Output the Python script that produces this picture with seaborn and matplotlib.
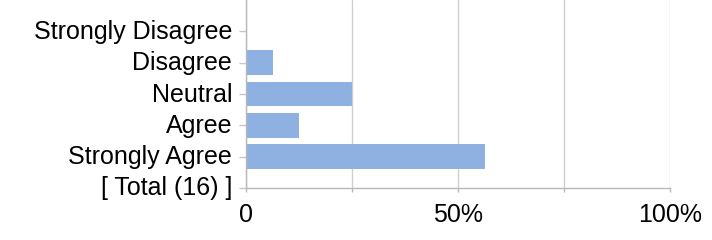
import matplotlib
matplotlib.use("Agg")
import matplotlib.pyplot as plt
import seaborn as sns
import pandas as pd
import numpy as np

categories = ["Strongly Disagree", "Disagree", "Neutral", "Agree", "Strongly Agree", "[ Total (16) ]"]
percent = [0.0, 6.25, 25.0, 12.5, 56.25, np.nan]
x_ticks = [0, 25, 50, 75, 100]
x_tick_labels = ["0", "", "50%", "", "100%"]

sns.set_theme(style="white")
plt.rcParams["font.family"] = ["Liberation Sans", "DejaVu Sans"]

df = pd.DataFrame({"category": categories, "percent": percent})

fig = plt.figure(figsize=(7.12, 2.40), dpi=100)
ax = fig.add_axes([246 / 712, (240 - 188) / 240, (670 - 246) / 712, 188 / 240])

sns.barplot(data=df, x="percent", y="category", order=categories, color="#8EB1E1",
            saturation=1, width=0.78, linewidth=0, edgecolor="none", ax=ax, orient="h")

ax.set_xlim(0, 100)
ax.set_ylim(len(categories) - 1, -1)
ax.set_xticks(x_ticks)
ax.set_xticklabels(x_tick_labels)
ax.set_xlabel("")
ax.set_ylabel("")
ax.grid(axis="x", color="#cfcfcf", linewidth=1)
ax.set_axisbelow(True)
for s in ["top", "right"]:
    ax.spines[s].set_visible(False)
for s in ["left", "bottom"]:
    ax.spines[s].set_color("#b8b8b8")
    ax.spines[s].set_linewidth(1)
ax.tick_params(axis="y", left=True, length=5, width=1, color="#c8c8c8", pad=5,
               labelsize=18, labelcolor="black")
ax.tick_params(axis="x", bottom=True, length=3, width=1, color="#b8b8b8", pad=8,
               labelsize=18, labelcolor="black")
for lbl in ax.get_yticklabels():
    lbl.set_y(lbl.get_position()[1])
    lbl.set_transform(lbl.get_transform() + matplotlib.transforms.ScaledTranslation(0, 2 / 100, fig.dpi_scale_trans))

fig.savefig("out.png", dpi=100)
